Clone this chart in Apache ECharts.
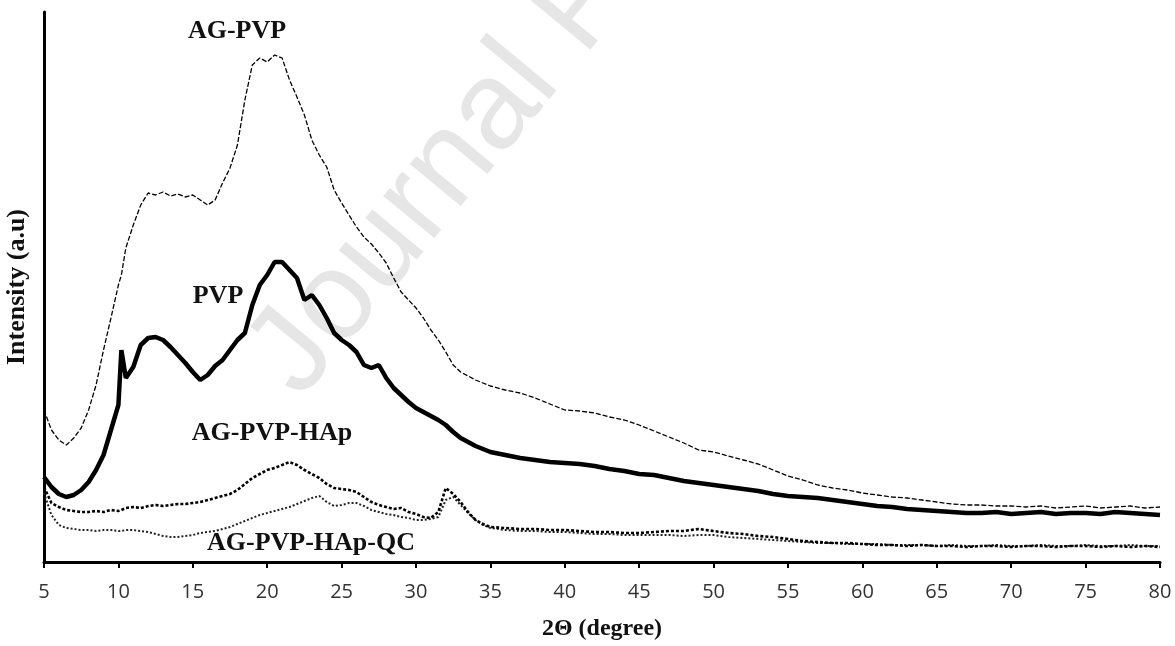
<!DOCTYPE html>
<html>
<head>
<meta charset="utf-8">
<title>XRD</title>
<script src="https://cdn.jsdelivr.net/npm/echarts@6/dist/echarts.min.js"></script>
<style>
  html, body { margin: 0; padding: 0; background: #fff; }
  #main { width: 1175px; height: 646px; }
</style>
</head>
<body>
<div id="main"></div>
<script>
// 2 theta (degree)
var theta = [5, 5.5, 6, 6.5, 7, 7.5, 8, 8.5, 9, 9.5, 10, 10.2, 10.5, 11, 11.5, 12, 12.5, 13, 13.5, 14, 14.5,
  15, 15.5, 16, 16.5, 17, 17.5, 18, 18.5, 19, 19.5, 20, 20.5, 21, 21.5, 22, 22.5, 23, 23.5, 24, 24.5,
  25, 25.5, 26, 26.5, 27, 27.5, 28, 28.5, 29, 29.5, 30, 30.5, 31, 31.5, 32, 32.5, 33, 33.5, 34, 34.5,
  35, 36, 37, 38, 39, 40, 41, 42, 43, 44, 45, 46, 47, 48, 49, 50, 51, 52, 53, 54, 55, 56, 57, 58, 59,
  60, 61, 62, 63, 64, 65, 66, 67, 68, 69, 70, 71, 72, 73, 74, 75, 76, 77, 78, 79, 80];

// intensities (a.u), stacked offsets as in the figure
var agPvp = [152, 132, 122, 117, 124, 134, 152, 177, 212, 244, 277, 287, 314, 337, 357, 369, 367, 370, 366, 368, 365,
  367, 362, 357, 362, 379, 394, 417, 462, 497, 504, 500, 507, 504, 482, 465, 447, 422, 407, 395, 372,
  359, 347, 335, 325, 318, 309, 299, 284, 270, 262, 254, 244, 232, 222, 210, 197, 190, 186, 182, 179,
  176, 172, 169, 164, 158, 152, 151, 149, 145, 142, 137, 131, 125, 119, 112, 110, 106, 102, 98, 92, 86, 82, 77, 74, 72,
  69, 67, 65, 64, 62, 60, 58, 57, 57, 56, 56, 55, 56, 54, 55, 56, 54, 55, 56, 54, 55];

var pvp = [85, 75, 68, 65, 67, 72, 80, 92, 107, 132, 157, 212, 184, 195, 217, 224, 225, 222, 215, 207, 199,
  190, 182, 187, 196, 202, 212, 222, 229, 257, 277, 287, 300, 300, 292, 284, 262, 267, 257, 244, 229,
  222, 217, 210, 197, 194, 197, 184, 174, 167, 160, 154, 150, 146, 142, 137, 130, 124, 120, 116, 113,
  110, 107, 104, 102, 100, 99, 98, 96, 93, 91, 88, 87, 84, 81, 79, 77, 75, 73, 71, 68, 66, 65, 64, 62, 60,
  58, 56, 55, 53, 52, 51, 50, 49, 49, 50, 48, 49, 50, 48, 49, 49, 48, 50, 49, 48, 47];

var agPvpHap = [75, 59, 55, 52, 51, 50, 50, 51, 50, 52, 51, 52, 54, 55, 54, 56, 57, 56, 57, 58, 58,
  59, 60, 62, 64, 66, 68, 72, 78, 84, 88, 92, 94, 97, 100, 97, 92, 88, 84, 78, 74,
  73, 72, 70, 65, 60, 57, 55, 53, 54, 50, 48, 45, 44, 50, 74, 68, 60, 50, 42, 38,
  35, 34, 33, 33, 32, 32, 31, 30, 30, 29, 29, 30, 31, 31, 33, 31, 29, 28, 26, 25, 23, 21, 20, 19, 19,
  18, 17, 17, 16, 17, 16, 16, 15, 16, 16, 15, 16, 16, 15, 16, 16, 15, 16, 15, 16, 15];

var agPvpHapQc = [69, 47, 37, 34, 33, 32, 32, 31, 32, 32, 31, 31, 32, 32, 31, 30, 28, 26, 25, 25, 26,
  27, 29, 30, 31, 33, 35, 38, 41, 44, 47, 49, 51, 53, 55, 58, 61, 64, 66, 60, 56,
  57, 59, 59, 56, 52, 50, 48, 47, 45, 44, 42, 42, 43, 45, 62, 65, 57, 49, 42, 37,
  34, 32, 31, 31, 30, 30, 29, 28, 28, 27, 27, 27, 27, 26, 27, 27, 25, 24, 23, 22, 21, 20, 19, 19, 18,
  18, 18, 17, 17, 17, 16, 17, 16, 16, 17, 16, 16, 17, 16, 16, 17, 16, 16, 17, 16, 16];

var xTicks = [5, 80, 5]; // min, max, interval

function pairs(ys) {
  return theta.map(function (t, i) { return [t, ys[i]]; });
}

var serifBold = 'bold 26px "Liberation Serif", "DejaVu Serif", serif';

var myChart = echarts.init(document.getElementById('main'));
var option = {
  backgroundColor: '#fff',
  animation: false,
  grid: { left: 44, right: 15, top: 12, bottom: 84, outerBoundsMode: 'none' },
  xAxis: {
    type: 'value',
    min: xTicks[0],
    max: xTicks[1],
    interval: xTicks[2],
    name: '2\u0398 (degree)',
    nameLocation: 'middle',
    nameGap: 55,
    nameTextStyle: {
      fontFamily: '"Liberation Serif", serif',
      fontWeight: 'bold',
      fontSize: 24,
      color: '#111'
    },
    axisLine: { lineStyle: { color: '#000', width: 3 } },
    axisTick: { show: true, inside: false, length: 6, lineStyle: { color: '#000', width: 2 } },
    axisLabel: { fontFamily: '"Open Sans", sans-serif', fontSize: 20, color: '#333', margin: 20 },
    splitLine: { show: false }
  },
  yAxis: {
    type: 'value',
    min: 0,
    max: 550,
    name: 'Intensity (a.u)',
    nameLocation: 'middle',
    nameRotate: 90,
    nameGap: 14,
    nameTextStyle: {
      fontFamily: '"Liberation Serif", serif',
      fontWeight: 'bold',
      fontSize: 26,
      color: '#111'
    },
    axisLine: { show: true, lineStyle: { color: '#000', width: 3 } },
    axisTick: { show: false },
    axisLabel: { show: false },
    splitLine: { show: false }
  },
  graphic: [
    {
      type: 'text', z: -10, x: 322, y: 418, rotation: 0.88,
      style: { text: 'Journal Pre-proof', font: '125px "Liberation Sans", sans-serif', fill: '#e6e6e6',
        textAlign: 'left', textVerticalAlign: 'bottom' }
    },
    { type: 'text', x: 237, y: 31, style: { text: 'AG-PVP', font: serifBold, fill: '#111', textAlign: 'center', textVerticalAlign: 'middle' } },
    { type: 'text', x: 218, y: 296, style: { text: 'PVP', font: serifBold, fill: '#111', textAlign: 'center', textVerticalAlign: 'middle' } },
    { type: 'text', x: 272, y: 433, style: { text: 'AG-PVP-HAp', font: serifBold, fill: '#111', textAlign: 'center', textVerticalAlign: 'middle' } },
    { type: 'text', x: 311, y: 543, style: { text: 'AG-PVP-HAp-QC', font: serifBold, fill: '#111', textAlign: 'center', textVerticalAlign: 'middle' } }
  ],
  series: [
    {
      name: 'AG-PVP', type: 'line', data: pairs(agPvp), showSymbol: false, z: 3,
      lineStyle: { color: '#000', width: 1.3, type: [5, 2] }
    },
    {
      name: 'PVP', type: 'line', data: pairs(pvp), showSymbol: false, z: 4,
      lineStyle: { color: '#000', width: 4.5 }
    },
    {
      name: 'AG-PVP-HAp', type: 'line', data: pairs(agPvpHap), showSymbol: false, z: 3,
      lineStyle: { color: '#000', width: 2.6, type: [3, 2] }
    },
    {
      name: 'AG-PVP-HAp-QC', type: 'line', data: pairs(agPvpHapQc), showSymbol: false, z: 2,
      lineStyle: { color: '#222', width: 2, type: [2, 2] }
    }
  ]
};
myChart.setOption(option);
</script>
</body>
</html>
